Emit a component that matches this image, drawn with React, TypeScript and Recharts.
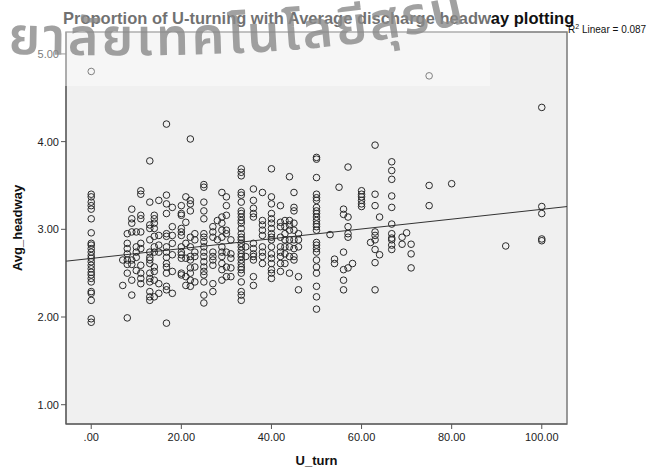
import { ScatterChart, Scatter, XAxis, YAxis, CartesianGrid, ReferenceLine, ReferenceArea } from 'recharts';

// U_turn levels (x) and the Avg_headway readings found at each level
const uTurnLevels = [
  0, 7, 8, 9, 10, 11, 13, 14, 15, 16.7, 18, 20, 21, 22, 23, 25, 27, 28, 29, 30, 31, 33.3, 34.3, 36, 38,
  40, 42, 43, 44, 45, 46, 50, 53, 54, 55, 56, 57, 58, 60, 62, 63, 64, 66.7, 69, 70, 71, 75, 80, 92, 100,
];

const headwayAtLevel = [
  [4.8, 3.4, 3.37, 3.31, 3.27, 3.23, 3.12, 2.96, 2.84, 2.82, 2.78, 2.74, 2.7, 2.67, 2.63, 2.59, 2.55, 2.51, 2.48, 2.44, 2.4, 2.29, 2.27, 2.19, 1.98, 1.94],
  [2.65, 2.36],
  [2.95, 2.84, 2.78, 2.72, 2.65, 2.6, 2.5, 1.99],
  [3.23, 3.12, 3.07, 2.97, 2.65, 2.6, 2.42, 2.25],
  [2.97, 2.8, 2.74, 2.68, 2.53],
  [3.44, 3.4, 3.16, 3.12, 2.97, 2.84, 2.78, 2.59, 2.5, 2.44, 2.38],
  [3.78, 3.31, 3.05, 3.01, 2.88, 2.74, 2.68, 2.65, 2.61, 2.5, 2.44, 2.4, 2.29, 2.23, 2.19],
  [3.16, 3.12, 3.07, 3.01, 2.92, 2.8, 2.74, 2.57, 2.52, 2.42, 2.23],
  [3.33, 2.93, 2.82, 2.74, 2.38, 2.27],
  [4.2, 3.39, 3.29, 3.18, 2.95, 2.92, 2.8, 2.74, 2.68, 2.61, 2.57, 2.5, 2.35, 2.31, 1.93],
  [3.25, 3.03, 2.93, 2.84, 2.71, 2.52, 2.27],
  [3.27, 3.18, 3.16, 3.01, 2.97, 2.93, 2.8, 2.74, 2.71, 2.67, 2.5, 2.48],
  [3.37, 3.08, 2.84, 2.67, 2.46, 2.36],
  [4.03, 3.33, 3.29, 3.21, 2.91, 2.8, 2.69, 2.65, 2.56, 2.5, 2.42, 2.35],
  [2.95, 2.88, 2.74, 2.69, 2.57, 2.4],
  [3.51, 3.48, 3.31, 3.21, 3.12, 2.95, 2.91, 2.86, 2.8, 2.74, 2.69, 2.63, 2.57, 2.52, 2.48, 2.4, 2.25, 2.16],
  [3.03, 2.97, 2.91, 2.74, 2.69, 2.65, 2.59, 2.38, 2.29],
  [3.1, 2.88],
  [3.42, 3.14, 3.07, 2.99, 2.91, 2.8, 2.74, 2.69, 2.61, 2.54, 2.42],
  [3.37, 3.27, 3.16, 2.99, 2.95, 2.74, 2.57, 2.46],
  [2.88, 2.72, 2.67, 2.56, 2.46],
  [3.69, 3.65, 3.61, 3.42, 3.39, 3.31, 3.21, 3.18, 3.14, 3.1, 3.07, 3.01, 2.95, 2.91, 2.88, 2.84, 2.8, 2.76, 2.72, 2.69, 2.65, 2.61, 2.57, 2.54, 2.5, 2.4, 2.29, 2.25, 2.19],
  [2.8, 2.69],
  [3.46, 3.33, 3.24, 3.18, 3.14, 2.84, 2.78, 2.72, 2.69, 2.65, 2.46, 2.36],
  [3.42, 3.1, 3.05, 2.99, 2.93, 2.8, 2.74, 2.69, 2.61],
  [3.69, 3.37, 3.29, 3.18, 3.12, 3.07, 3.01, 2.95, 2.91, 2.88, 2.8, 2.72, 2.67, 2.61, 2.54, 2.5, 2.44],
  [3.27, 3.08, 3.03, 2.91, 2.8, 2.74, 2.69, 2.61, 2.52],
  [3.1, 3.03, 2.95, 2.88, 2.8, 2.72, 2.61],
  [3.6, 3.1, 3.05, 2.99, 2.88, 2.8, 2.69, 2.5],
  [3.42, 3.25, 3.21, 3.07, 2.99, 2.88, 2.78, 2.69, 2.65],
  [2.95, 2.88, 2.8, 2.46, 2.31],
  [3.82, 3.8, 3.59, 3.4, 3.36, 3.33, 3.25, 3.21, 3.18, 3.14, 3.1, 3.06, 3.03, 2.99, 2.85, 2.82, 2.78, 2.74, 2.65, 2.57, 2.5, 2.35, 2.23, 2.09],
  [2.94],
  [2.66, 2.61],
  [3.48],
  [3.23, 3.17, 2.74, 2.54, 2.42, 2.31],
  [3.71, 3.14, 3.03, 2.95, 2.91, 2.56],
  [2.61],
  [3.44, 3.4, 3.37, 3.33, 3.29, 3.26],
  [2.85],
  [3.96, 3.4, 3.27, 2.97, 2.93, 2.88, 2.77, 2.62, 2.31],
  [3.14, 2.71],
  [3.77, 3.67, 3.57, 3.38, 3.25, 3.06, 2.95, 2.9, 2.88, 2.82, 2.77],
  [2.91, 2.83],
  [2.96],
  [2.83, 2.72, 2.56],
  [4.75, 3.5, 3.27],
  [3.52],
  [2.81],
  [4.39, 3.26, 3.18, 2.89, 2.87],
];

const xTicks = [0, 20, 40, 60, 80, 100];
const yTicks = [1, 2, 3, 4, 5];

// linear fit as printed by SPSS
const fitIntercept = 2.668;
const fitSlope = 0.0056;
const rSquared = '0.087';

const X_MIN = -5.6;
const X_MAX = 105.6;
const Y_MIN = 0.78;
const Y_MAX = 5.25;

const points = uTurnLevels.flatMap((u, i) => headwayAtLevel[i].map((h) => ({ x: u, y: h })));

const fitLine = [
  { x: X_MIN, y: fitIntercept + fitSlope * X_MIN },
  { x: X_MAX, y: fitIntercept + fitSlope * X_MAX },
];

const FONT = '"Liberation Sans", Arial, sans-serif';

// SPSS style: 0 -> ".00"
const fmt = (v: number) => (v === 0 ? '.00' : v.toFixed(2));

const ring = (props: any) => {
  const { cx, cy } = props;
  if (cx == null || cy == null) return <g />;
  return <circle cx={cx} cy={cy} r={3.3} fill="none" stroke="#2a2a2a" strokeWidth={1} />;
};

export default function App() {
  return (
    <div style={{ position: 'absolute', left: 0, top: 0, width: 661, height: 471, background: '#fff', fontFamily: FONT }}>
      <ScatterChart width={661} height={471} margin={{ top: 32, right: 94, bottom: 0, left: 0 }}>
        <CartesianGrid horizontal={false} vertical={false} fill="#f0f0f0" />
        <XAxis
          type="number"
          dataKey="x"
          domain={[X_MIN, X_MAX]}
          ticks={xTicks}
          tickFormatter={fmt}
          allowDataOverflow
          height={47}
          tickSize={5}
          tickMargin={4}
          stroke="#555"
          tick={{ fill: '#222', fontSize: 11, fontFamily: FONT }}
          label={{ value: 'U_turn', position: 'insideBottom', offset: 6, fill: '#111', fontSize: 13, fontWeight: 'bold', fontFamily: FONT }}
        />
        <YAxis
          type="number"
          dataKey="y"
          domain={[Y_MIN, Y_MAX]}
          ticks={yTicks}
          tickFormatter={fmt}
          allowDataOverflow
          width={66}
          tickSize={5}
          tickMargin={2}
          stroke="#555"
          tick={{ fill: '#222', fontSize: 11, fontFamily: FONT }}
          label={{ value: 'Avg_headway', angle: -90, position: 'insideLeft', offset: 17, fill: '#111', fontSize: 13, fontWeight: 'bold', fontFamily: FONT, style: { textAnchor: 'middle' } }}
        />
        <ReferenceArea x1={X_MIN} x2={X_MAX} y1={Y_MIN} y2={Y_MAX} fill="none" stroke="#7a7a7a" strokeWidth={1.5} ifOverflow="extendDomain" />
        <ReferenceLine segment={fitLine} stroke="#333" strokeWidth={1} />
        <Scatter data={points} shape={ring} isAnimationActive={false} />
      </ScatterChart>
      <svg width={661} height={471} style={{ position: 'absolute', left: 0, top: 0, pointerEvents: 'none' }}>
        <text x={63} y={24} fontSize={16.5} fontWeight="bold" fill="#111" fontFamily={FONT}>
          Proportion of U-turning with Average discharge headway plotting
        </text>
        <text x={568} y={33} fontSize={10} fill="#111" fontFamily={FONT}>
          R<tspan dy={-4} fontSize={7}>2</tspan>
          <tspan dy={4}> Linear = {rSquared}</tspan>
        </text>
        {/* watermark */}
        <rect x={0} y={0} width={490} height={86} fill="#fff" opacity={0.4} />
        <defs>
          <path id="wm" d="M 8 54 C 220 58, 350 54, 485 18" />
        </defs>
        <text fontSize={52} fontWeight={600} letterSpacing={3} fill="#8a8a8a" opacity={0.8} fontFamily='"Noto Sans Thai", "Noto Sans", "DejaVu Sans", sans-serif'>
          <textPath href="#wm">ยาลัยเทคโนโลยีสุรน</textPath>
        </text>
      </svg>
    </div>
  );
}
